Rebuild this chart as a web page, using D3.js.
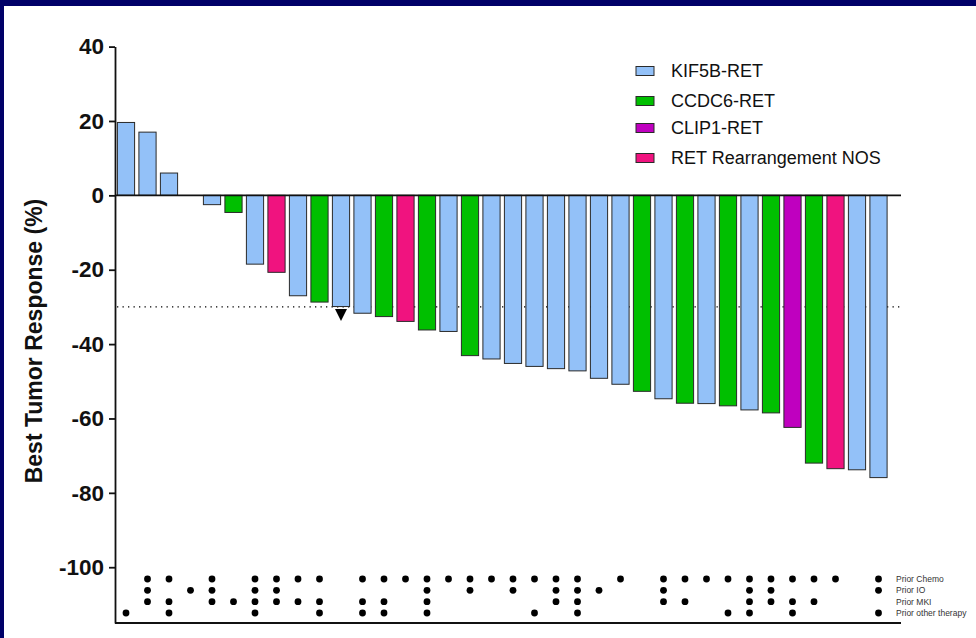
<!DOCTYPE html>
<html>
<head>
<meta charset="utf-8">
<script src="https://cdn.jsdelivr.net/npm/d3@7"></script>
<style>
  html, body { margin: 0; padding: 0; background: #ffffff; }
  svg { display: block; }
</style>
</head>
<body>
<svg id="chart" width="976" height="638"></svg>
<script>
// Best tumor response per patient, ordered as plotted
const patients = d3.range(1, 37);
const responses = [19.6, 17.0, 6.0, 0, -2.5, -4.6, -18.5, -20.7, -27.0, -28.7,
  -29.9, -31.7, -32.6, -33.9, -36.2, -36.6, -43.1, -44.0, -45.2, -46.0,
  -46.6, -47.2, -49.2, -50.8, -52.7, -54.7, -55.9, -56.0, -56.6, -57.7,
  -58.5, -62.4, -72.0, -73.5, -73.8, -75.9];
const fusions = ["K", "K", "K", "K", "K", "C", "K", "N", "K", "C",
  "K", "K", "C", "N", "C", "K", "C", "K", "K", "K",
  "K", "K", "K", "K", "C", "K", "C", "K", "C", "K",
  "C", "P", "C", "N", "K", "K"];

const fusionKeys = ["K", "C", "P", "N"];
const fusionLabels = ["KIF5B-RET", "CCDC6-RET", "CLIP1-RET", "RET Rearrangement NOS"];
const fusionColors = ["#93c1f8", "#00bf00", "#bf00bf", "#f0137f"];

const yTicks = [40, 20, 0, -20, -40, -60, -80, -100];
const yTitle = "Best Tumor Response (%)";
const threshold = -30;
const markedPatient = 11;   // patient flagged with a marker under the bar

// Prior therapy indicators (1 = received)
const therapyLabels = ["Prior Chemo", "Prior IO", "Prior MKI", "Prior other therapy"];
const priorChemo = [0,1,1,0,1,0,1,1,1,1, 0,1,1,1,1,1,1,1,1,1, 1,1,0,1,0,1,1,1,1,1, 1,1,1,1,0,1];
const priorIO    = [0,1,0,1,1,0,1,1,0,0, 0,0,0,0,1,0,1,0,1,0, 1,1,1,0,0,1,0,0,0,1, 1,0,0,0,0,1];
const priorMKI   = [0,1,1,0,1,1,1,1,1,1, 0,1,1,0,1,0,0,0,0,0, 1,1,0,0,0,1,1,0,0,1, 1,1,1,0,0,0];
const priorOther = [1,0,1,0,0,0,1,0,0,1, 0,1,1,0,1,0,0,0,0,1, 0,1,0,0,0,0,0,0,1,1, 0,1,0,0,0,1];
const therapyRows = [priorChemo, priorIO, priorMKI, priorOther];

const svg = d3.select("#chart");
const W = 976, H = 638;
const FONT = "'Liberation Sans', Arial, sans-serif";

// page frame
svg.append("rect").attr("width", W).attr("height", H).attr("fill", "#ffffff");
svg.append("rect").attr("x", 0).attr("y", 0).attr("width", W).attr("height", 6).attr("fill", "#000068");
svg.append("rect").attr("x", 0).attr("y", 0).attr("width", 4).attr("height", H).attr("fill", "#000068");

const plotLeft = 115, plotRight = 901;
const y = d3.scaleLinear().domain([-115, 40]).range([623, 46.6]);
const x = d3.scaleBand().domain(patients).range([115.25, 889.25])
  .paddingInner(0.2).paddingOuter(0.1);
const color = d3.scaleOrdinal().domain(fusionKeys).range(fusionColors);

// threshold line
svg.append("line")
  .attr("x1", plotLeft + 2).attr("x2", plotRight)
  .attr("y1", y(threshold)).attr("y2", y(threshold))
  .attr("stroke", "#000").attr("stroke-width", 1.3)
  .attr("stroke-dasharray", "1.3,4.2");

// bars
const rows = patients.map((p, i) => ({ p, v: responses[i], f: fusions[i] }));
svg.append("g").selectAll("rect")
  .data(rows.filter(d => d.v !== 0))
  .join("rect")
  .attr("x", d => x(d.p))
  .attr("width", x.bandwidth())
  .attr("y", d => Math.min(y(d.v), y(0)))
  .attr("height", d => Math.abs(y(d.v) - y(0)))
  .attr("fill", d => color(d.f))
  .attr("stroke", "#2a2a2a")
  .attr("stroke-width", 1);

// zero line
svg.append("line")
  .attr("x1", plotLeft).attr("x2", plotRight)
  .attr("y1", y(0)).attr("y2", y(0))
  .attr("stroke", "#111").attr("stroke-width", 1.8);

// bottom axis line
svg.append("line")
  .attr("x1", plotLeft).attr("x2", plotRight)
  .attr("y1", y(-115)).attr("y2", y(-115))
  .attr("stroke", "#111").attr("stroke-width", 1.8);

// marker under flagged bar
const mi = markedPatient - 1;
const mx = x(markedPatient) + x.bandwidth() / 2;
const my = y(responses[mi]) + 2.5;
svg.append("path")
  .attr("d", `M${mx - 6},${my} L${mx + 6},${my} L${mx},${my + 12} Z`)
  .attr("fill", "#000");

// y axis
const yAxis = svg.append("g")
  .attr("transform", `translate(${plotLeft},0)`)
  .call(d3.axisLeft(y).tickValues(yTicks).tickSize(6).tickSizeOuter(0)
    .tickFormat(d => String(d)).tickPadding(5));
yAxis.select(".domain").attr("stroke", "#111").attr("stroke-width", 1.8);
yAxis.selectAll(".tick line").attr("stroke", "#111").attr("stroke-width", 1.8);
yAxis.selectAll(".tick text")
  .attr("fill", "#111")
  .style("font-family", FONT)
  .style("font-size", "22.5px")
  .style("font-weight", "bold");

// y axis title
svg.append("text")
  .attr("transform", `translate(42,341) rotate(-90)`)
  .attr("text-anchor", "middle")
  .style("font-family", FONT)
  .style("font-size", "23px")
  .style("font-weight", "bold")
  .attr("fill", "#111")
  .text(yTitle);

// prior therapy dot matrix
const rowY = d3.scalePoint().domain(therapyLabels).range([579, 613]);
const dots = [];
therapyRows.forEach((arr, r) => arr.forEach((v, i) => {
  if (v) dots.push({ p: patients[i], t: therapyLabels[r] });
}));
svg.append("g").selectAll("circle")
  .data(dots)
  .join("circle")
  .attr("cx", d => x(d.p) + x.bandwidth() / 2)
  .attr("cy", d => rowY(d.t))
  .attr("r", 3.4)
  .attr("fill", "#000");

svg.append("g").selectAll("text")
  .data(therapyLabels)
  .join("text")
  .attr("x", 896)
  .attr("y", d => rowY(d))
  .attr("dy", "0.35em")
  .style("font-family", FONT)
  .style("font-size", "8.5px")
  .attr("fill", "#333")
  .text(d => d);

// legend
const legendY = [71, 101, 128, 158];
const legend = svg.append("g");
fusionKeys.forEach((k, i) => {
  legend.append("rect")
    .attr("x", 636).attr("y", legendY[i] - 4.5)
    .attr("width", 18).attr("height", 9)
    .attr("fill", color(k))
    .attr("stroke", "#2a2a2a").attr("stroke-width", 1);
  legend.append("text")
    .attr("x", 671).attr("y", legendY[i])
    .attr("dy", "0.35em")
    .style("font-family", FONT)
    .style("font-size", "18px")
    .attr("fill", "#111")
    .text(fusionLabels[i]);
});
</script>
</body>
</html>
